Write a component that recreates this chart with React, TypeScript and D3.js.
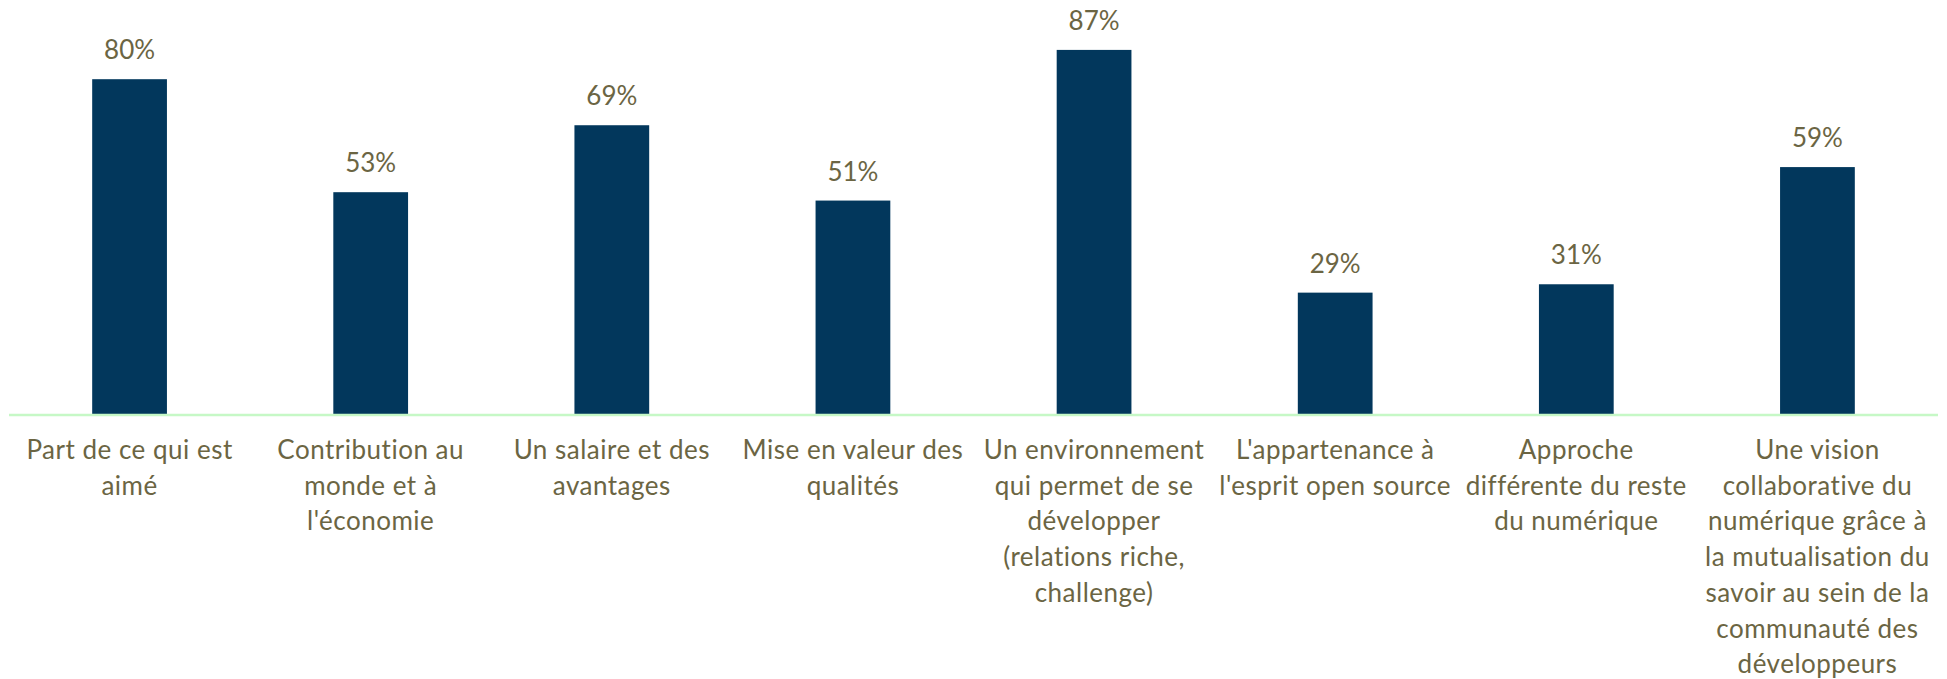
import React from "react";
import * as d3 from "d3";

const categories: string[] = [
  "Part de ce qui est\naimé",
  "Contribution au\nmonde et à\nl'économie",
  "Un salaire et des\navantages",
  "Mise en valeur des\nqualités",
  "Un environnement\nqui permet de se\ndévelopper\n(relations riche,\nchallenge)",
  "L'appartenance à\nl'esprit open source",
  "Approche\ndifférente du reste\ndu numérique",
  "Une vision\ncollaborative du\nnumérique grâce à\nla mutualisation du\nsavoir au sein de la\ncommunauté des\ndéveloppeurs",
];
const values: number[] = [80, 53, 69, 51, 87, 29, 31, 59];
const valueLabels: string[] = ["80%", "53%", "69%", "51%", "87%", "29%", "31%", "59%"];

const W = 1947;
const H = 679;
const FONT = "Lato, 'Open Sans', sans-serif";
const TEXT_COLOR = "#6b6543";
const BAR_COLOR = "#02375c";

export default function App() {
  const x = d3
    .scaleBand<string>()
    .domain(categories)
    .range([9, 1938])
    .paddingInner(0.69)
    .paddingOuter(0.345);
  const y = d3.scaleLinear().domain([0, 100]).range([414, -4.5]);

  return (
    <div style={{ position: "fixed", left: 0, top: 0 }}>
      <svg width={W} height={H} style={{ display: "block", background: "#fff" }}>
        {categories.map((c, i) => (
          <rect
            key={"b" + i}
            x={x(c)!}
            y={y(values[i])}
            width={x.bandwidth()}
            height={y(0) - y(values[i])}
            fill={BAR_COLOR}
          />
        ))}
        <line x1={9} x2={1938} y1={y(0) + 1} y2={y(0) + 1} stroke="#c6f8c6" strokeWidth={2.5} />
        {categories.map((c, i) => (
          <text
            key={"v" + i}
            x={x(c)! + x.bandwidth() / 2}
            y={y(values[i]) - 20}
            textAnchor="middle"
            fontFamily={FONT}
            fontSize={26}
            fill={TEXT_COLOR}
          >
            {valueLabels[i]}
          </text>
        ))}
        {categories.map((c, i) => (
          <text
            key={"c" + i}
            x={x(c)! + x.bandwidth() / 2}
            y={459}
            textAnchor="middle"
            fontFamily={FONT}
            fontSize={26}
            letterSpacing={0.5}
            fill={TEXT_COLOR}
          >
            {c.split("\n").map((line, j) => (
              <tspan key={j} x={x(c)! + x.bandwidth() / 2} y={459 + j * 35.7}>
                {line}
              </tspan>
            ))}
          </text>
        ))}
      </svg>
    </div>
  );
}
